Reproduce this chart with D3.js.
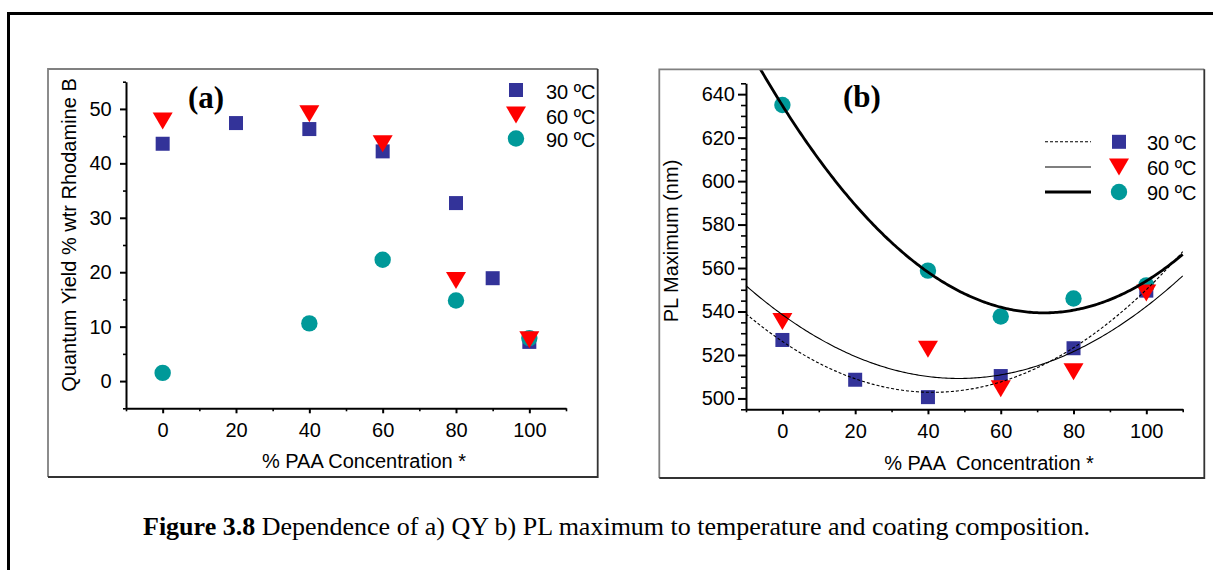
<!DOCTYPE html>
<html>
<head>
<meta charset="utf-8">
<style>
body{margin:0;background:#fff;}
svg{display:block;font-family:"Liberation Sans",Arial,sans-serif;}
.axis path,.axis line{stroke:#000;stroke-width:2;fill:none;}
.axis text{font-family:"Liberation Sans",Arial,sans-serif;font-size:20px;fill:#000;}
.minor line{stroke-width:1.6;}
.title,.legtext{font-size:20px;fill:#000;}
.tag{font-family:"Liberation Serif","Times New Roman",serif;font-weight:bold;font-size:31px;}
.caption{font-family:"Liberation Serif","Times New Roman",serif;font-size:26px;}
</style>
</head>
<body>
<svg id="fig" width="1213" height="570"></svg>
<script src="https://cdn.jsdelivr.net/npm/d3@7"></script>
<script>

// ---- data, panel (a): quantum yield ----
var conc30a = [0, 20, 40, 60, 80, 90, 100];
var qy30    = [43.6, 47.4, 46.3, 42.2, 32.7, 18.9, 7.2];
var conc60a = [0, 40, 60, 80, 100];
var qy60    = [47.8, 49.1, 43.6, 18.5, 7.6];
var conc90a = [0, 40, 60, 80, 100];
var qy90    = [1.5, 10.6, 22.3, 14.8, 7.9];

// ---- data, panel (b): PL maximum ----
var conc30b = [0, 20, 40, 60, 80, 100];
var pl30    = [526.9, 508.6, 500.6, 510.3, 523.1, 549.6];
var conc60b = [0, 40, 60, 80, 100];
var pl60    = [535.4, 522.6, 504.5, 512.3, 548.5];
var conc90b = [0, 40, 60, 80, 100];
var pl90    = [635.0, 558.8, 537.7, 546.0, 552.0];

// ---- ticks and labels ----
var concTicks  = [0, 20, 40, 60, 80, 100];
var concMinor  = [-10, 10, 30, 50, 70, 90, 110];
var qyTicks    = [0, 10, 20, 30, 40, 50];
var qyMinor    = [-5, 5, 15, 25, 35, 45, 55];
var plTicks    = [500, 520, 540, 560, 580, 600, 620, 640];
var plMinor    = d3.range(495, 646, 5).filter(function(v){ return plTicks.indexOf(v) < 0; });
var seriesNames = ["30 \u00baC", "60 \u00baC", "90 \u00baC"];

var colSquare = "#333399", colTri = "#ff0000", colCirc = "#009999";

var svg = d3.select("#fig");
svg.append("rect").attr("width", 1213).attr("height", 570).attr("fill", "#fff");

// page border (top + left)
svg.append("line").attr("x1", 7).attr("x2", 1213).attr("y1", 13.5).attr("y2", 13.5)
   .attr("stroke", "#000").attr("stroke-width", 3);
svg.append("line").attr("x1", 8.5).attr("x2", 8.5).attr("y1", 12).attr("y2", 570)
   .attr("stroke", "#000").attr("stroke-width", 3);

function frame(x0, y0, x1, y1){
    svg.append("path").attr("d", "M" + x0 + "," + y1 + "V" + y0 + "H" + x1)
       .attr("fill", "none").attr("stroke", "#808080").attr("stroke-width", 1.8);
    svg.append("path").attr("d", "M" + x1 + "," + y0 + "V" + y1 + "H" + x0)
       .attr("fill", "none").attr("stroke", "#333").attr("stroke-width", 1.8);
}

function drawSquares(g, xs, ys, x, y){
    g.selectAll(null).data(xs).enter().append("rect")
      .attr("x", function(d){ return x(d) - 7; })
      .attr("y", function(d, i){ return y(ys[i]) - 7; })
      .attr("width", 14).attr("height", 14)
      .attr("fill", colSquare);
}
function drawTris(g, xs, ys, x, y){
    g.selectAll(null).data(xs).enter().append("path")
      .attr("d", "M-10,-8.5L10,-8.5L0,8.5Z")
      .attr("transform", function(d, i){ return "translate(" + x(d) + "," + y(ys[i]) + ")"; })
      .attr("fill", colTri);
}
function drawCircs(g, xs, ys, x, y){
    g.selectAll(null).data(xs).enter().append("circle")
      .attr("cx", function(d){ return x(d); })
      .attr("cy", function(d, i){ return y(ys[i]); })
      .attr("r", 8.2)
      .attr("fill", colCirc);
}

function axes(x, y, o){
    var yb = y.range()[0], xl = x.range()[0];
    svg.append("g").attr("class", "axis").attr("transform", "translate(0," + yb + ")")
       .call(d3.axisBottom(x).tickValues(concTicks).tickSize(5).tickPadding(9.5).tickSizeOuter(0));
    svg.append("g").attr("class", "axis minor").attr("transform", "translate(0," + yb + ")")
       .call(d3.axisBottom(x).tickValues(concMinor).tickSize(3).tickFormat(""))
       .select(".domain").remove();
    svg.append("g").attr("class", "axis").attr("transform", "translate(" + xl + ",0)")
       .call(d3.axisLeft(y).tickValues(o.ticks).tickSize(o.major).tickPadding(o.pad).tickSizeOuter(0));
    svg.append("g").attr("class", "axis minor").attr("transform", "translate(" + xl + ",0)")
       .call(d3.axisLeft(y).tickValues(o.minor).tickSize(o.minorSize).tickFormat(""))
       .select(".domain").remove();
}

// least squares quadratic (the fitted trend lines of panel b)
function quadFit(xs, ys){
    var s = [0, 0, 0, 0, 0], t = [0, 0, 0];
    xs.forEach(function(xv, i){
        for (var k = 0; k < 5; k++) s[k] += Math.pow(xv, k);
        for (var k2 = 0; k2 < 3; k2++) t[k2] += ys[i] * Math.pow(xv, k2);
    });
    var M = [[s[0], s[1], s[2]], [s[1], s[2], s[3]], [s[2], s[3], s[4]]];
    function det(m){
        return m[0][0]*(m[1][1]*m[2][2]-m[1][2]*m[2][1])
             - m[0][1]*(m[1][0]*m[2][2]-m[1][2]*m[2][0])
             + m[0][2]*(m[1][0]*m[2][1]-m[1][1]*m[2][0]);
    }
    var D = det(M), c = [];
    for (var j = 0; j < 3; j++){
        var Mj = M.map(function(r, ri){ var rr = r.slice(); rr[j] = t[ri]; return rr; });
        c.push(det(Mj) / D);
    }
    return function(v){ return c[0] + c[1]*v + c[2]*v*v; };
}

// ================= panel (a) =================
frame(48, 69, 597.7, 477);
var xa = d3.scaleLinear().domain([-10, 110]).range([126, 566]);
var ya = d3.scaleLinear().domain([-5, 55]).range([408.3, 81.7]);
axes(xa, ya, {ticks: qyTicks, minor: qyMinor, major: 6, minorSize: 3, pad: 8.3});

var ga = svg.append("g");
drawSquares(ga, conc30a, qy30, xa, ya);
drawCircs(ga, conc90a, qy90, xa, ya);
drawTris(ga, conc60a, qy60, xa, ya);

svg.append("text").attr("class", "tag").attr("x", 188).attr("y", 108).text("(a)");
svg.append("text").attr("class", "title").attr("x", 364).attr("y", 468)
   .attr("text-anchor", "middle").text("% PAA Concentration *");
svg.append("text").attr("class", "title").attr("text-anchor", "middle")
   .attr("transform", "translate(76,235) rotate(-90)").text("Quantum Yield % wtr Rhodamine B");

// legend (a)
var legA = [90, 115, 138.5];
svg.append("rect").attr("x", 516 - 7).attr("y", legA[0] - 7).attr("width", 14).attr("height", 14).attr("fill", colSquare);
svg.append("path").attr("d", "M-10,-8.5L10,-8.5L0,8.5Z").attr("transform", "translate(516," + legA[1] + ")").attr("fill", colTri);
svg.append("circle").attr("cx", 516).attr("cy", legA[2]).attr("r", 8.2).attr("fill", colCirc);
svg.selectAll(null).data(seriesNames).enter().append("text").attr("class", "legtext")
   .attr("x", 546).attr("y", function(d, i){ return legA[i] + 8.5; }).text(function(d){ return d; });

// ================= panel (b) =================
frame(659.3, 69.3, 1204.3, 478);
var xb = d3.scaleLinear().domain([-10, 110]).range([746, 1182.7]);
var yb = d3.scaleLinear().domain([495, 645]).range([409.3, 83.3]);
axes(xb, yb, {ticks: plTicks, minor: plMinor, major: 8, minorSize: 5, pad: 3});

svg.append("clipPath").attr("id", "clipB").append("rect")
   .attr("x", 660).attr("y", 70.2).attr("width", 543.5).attr("height", 407);

var gb = svg.append("g");
drawSquares(gb, conc30b, pl30, xb, yb);
drawCircs(gb, conc90b, pl90, xb, yb);
drawTris(gb, conc60b, pl60, xb, yb);

var fitX = d3.range(-10, 110.01, 0.5);
var fits = [
  {f: quadFit(conc30b, pl30), w: 1.1, dash: "3,2"},
  {f: quadFit(conc60b, pl60), w: 1.1, dash: null},
  {f: quadFit(conc90b, pl90), w: 2.8, dash: null}
];
fits.forEach(function(ft){
    var line = d3.line().x(function(d){ return xb(d); }).y(function(d){ return yb(ft.f(d)); });
    gb.append("path").datum(fitX).attr("d", line).attr("clip-path", "url(#clipB)")
      .attr("fill", "none").attr("stroke", "#000").attr("stroke-width", ft.w)
      .attr("stroke-dasharray", ft.dash);
});

svg.append("text").attr("class", "tag").attr("x", 843).attr("y", 107).text("(b)");
svg.append("text").attr("class", "title").attr("x", 989).attr("y", 470)
   .attr("text-anchor", "middle").attr("xml:space", "preserve").style("white-space", "pre")
   .text("% PAA  Concentration *");
svg.append("text").attr("class", "title").attr("text-anchor", "middle")
   .attr("transform", "translate(678,241) rotate(-90)").text("PL Maximum (nm)");

// legend (b)
var legB = [141.8, 167, 192];
fits.forEach(function(ft, i){
    svg.append("line").attr("x1", 1045).attr("x2", 1091).attr("y1", legB[i]).attr("y2", legB[i])
       .attr("stroke", "#000").attr("stroke-width", ft.w).attr("stroke-dasharray", ft.dash);
});
svg.append("rect").attr("x", 1119 - 7).attr("y", legB[0] - 7).attr("width", 14).attr("height", 14).attr("fill", colSquare);
svg.append("path").attr("d", "M-10,-8.5L10,-8.5L0,8.5Z").attr("transform", "translate(1119," + legB[1] + ")").attr("fill", colTri);
svg.append("circle").attr("cx", 1119).attr("cy", legB[2]).attr("r", 8.2).attr("fill", colCirc);
svg.selectAll(null).data(seriesNames).enter().append("text").attr("class", "legtext")
   .attr("x", 1147).attr("y", function(d, i){ return legB[i] + 8.3; }).text(function(d){ return d; });

// caption
var cap = svg.append("text").attr("class", "caption").attr("x", 143).attr("y", 535);
cap.append("tspan").attr("font-weight", "bold").text("Figure 3.8");
cap.append("tspan").text(" Dependence of a) QY b) PL maximum to temperature and coating composition.");

</script>
</body>
</html>
